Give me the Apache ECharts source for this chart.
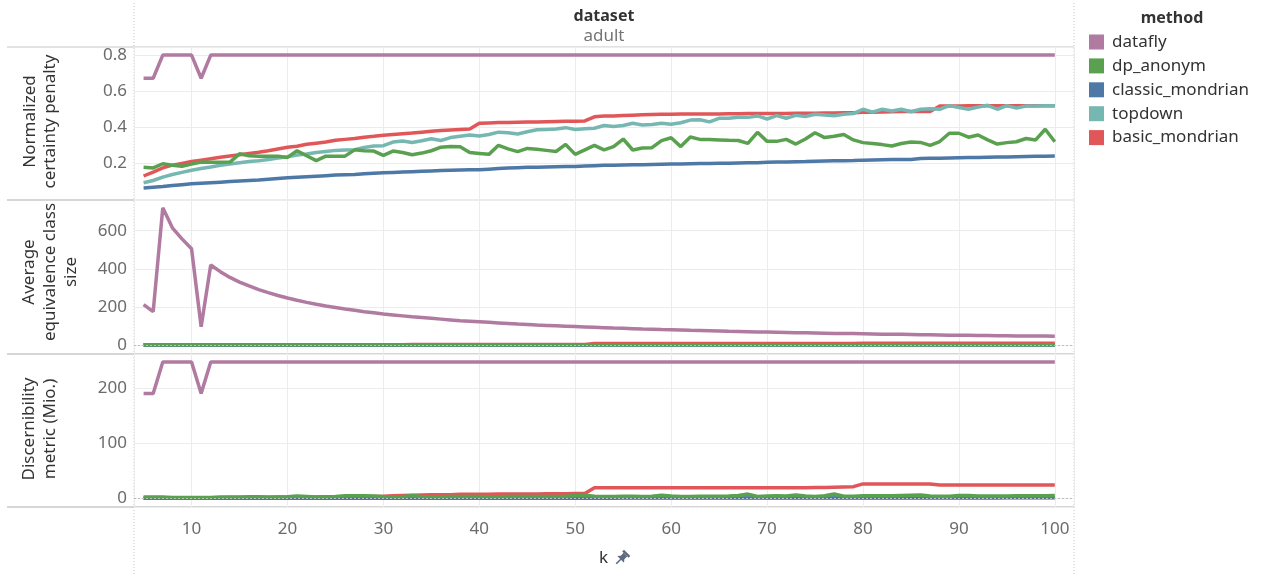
<!DOCTYPE html>
<html>
<head>
<meta charset="utf-8">
<script src="https://cdn.jsdelivr.net/npm/echarts@6/dist/echarts.min.js"></script>
<style>
  html, body { margin: 0; padding: 0; background: #ffffff; }
  #chart { width: 1269px; height: 576px; }
</style>
</head>
<body>
<div id="chart"></div>
<script>
// k values (x axis)
const kValues = [
  5, 6, 7, 8, 9, 10, 11, 12, 13, 14,
  15, 16, 17, 18, 19, 20, 21, 22, 23, 24,
  25, 26, 27, 28, 29, 30, 31, 32, 33, 34,
  35, 36, 37, 38, 39, 40, 41, 42, 43, 44,
  45, 46, 47, 48, 49, 50, 51, 52, 53, 54,
  55, 56, 57, 58, 59, 60, 61, 62, 63, 64,
  65, 66, 67, 68, 69, 70, 71, 72, 73, 74,
  75, 76, 77, 78, 79, 80, 81, 82, 83, 84,
  85, 86, 87, 88, 89, 90, 91, 92, 93, 94,
  95, 96, 97, 98, 99, 100
];

const methods = ['datafly', 'dp_anonym', 'classic_mondrian', 'topdown', 'basic_mondrian'];
const methodColors = {
  datafly: '#b07aa1',
  dp_anonym: '#59a14f',
  classic_mondrian: '#4e79a7',
  topdown: '#76b7b2',
  basic_mondrian: '#e15759'
};

// ---- Normalized certainty penalty ----
const penaltyDatafly = [
  0.672, 0.672, 0.8, 0.8, 0.8, 0.8, 0.672, 0.8, 0.8, 0.8,
  0.8, 0.8, 0.8, 0.8, 0.8, 0.8, 0.8, 0.8, 0.8, 0.8,
  0.8, 0.8, 0.8, 0.8, 0.8, 0.8, 0.8, 0.8, 0.8, 0.8,
  0.8, 0.8, 0.8, 0.8, 0.8, 0.8, 0.8, 0.8, 0.8, 0.8,
  0.8, 0.8, 0.8, 0.8, 0.8, 0.8, 0.8, 0.8, 0.8, 0.8,
  0.8, 0.8, 0.8, 0.8, 0.8, 0.8, 0.8, 0.8, 0.8, 0.8,
  0.8, 0.8, 0.8, 0.8, 0.8, 0.8, 0.8, 0.8, 0.8, 0.8,
  0.8, 0.8, 0.8, 0.8, 0.8, 0.8, 0.8, 0.8, 0.8, 0.8,
  0.8, 0.8, 0.8, 0.8, 0.8, 0.8, 0.8, 0.8, 0.8, 0.8,
  0.8, 0.8, 0.8, 0.8, 0.8, 0.8
];
const penaltyDp = [
  0.178, 0.175, 0.198, 0.19, 0.184, 0.196, 0.207, 0.206, 0.206, 0.207,
  0.253, 0.242, 0.24, 0.24, 0.24, 0.233, 0.27, 0.242, 0.215, 0.24,
  0.24, 0.24, 0.275, 0.27, 0.268, 0.244, 0.268, 0.26, 0.248, 0.257,
  0.27, 0.29, 0.293, 0.292, 0.26, 0.255, 0.25, 0.3, 0.28, 0.265,
  0.283, 0.278, 0.272, 0.266, 0.305, 0.25, 0.275, 0.3, 0.275, 0.293,
  0.335, 0.274, 0.285, 0.287, 0.326, 0.342, 0.293, 0.346, 0.333, 0.332,
  0.33, 0.328, 0.327, 0.311, 0.372, 0.322, 0.322, 0.333, 0.307, 0.335,
  0.37, 0.343, 0.35, 0.36, 0.33, 0.315, 0.31, 0.304, 0.296, 0.31,
  0.318, 0.316, 0.3, 0.321, 0.367, 0.367, 0.345, 0.357, 0.33, 0.307,
  0.315, 0.32, 0.338, 0.33, 0.389, 0.32
];
const penaltyClassic = [
  0.064, 0.068, 0.072, 0.077, 0.082, 0.087, 0.09, 0.093, 0.096, 0.099,
  0.102, 0.105, 0.108, 0.112, 0.116, 0.12, 0.123, 0.126, 0.129, 0.132,
  0.135, 0.137, 0.139, 0.142, 0.145, 0.148, 0.15, 0.152, 0.154, 0.156,
  0.158, 0.16, 0.162, 0.163, 0.164, 0.165, 0.168, 0.171, 0.174, 0.176,
  0.178, 0.179, 0.18, 0.181, 0.182, 0.183, 0.185, 0.187, 0.189, 0.19,
  0.191, 0.192, 0.193, 0.194, 0.195, 0.196, 0.197, 0.198, 0.199, 0.199,
  0.2, 0.201, 0.202, 0.203, 0.204, 0.206, 0.207, 0.208, 0.209, 0.21,
  0.212, 0.213, 0.214, 0.215, 0.216, 0.218, 0.219, 0.22, 0.221, 0.222,
  0.222, 0.227, 0.228, 0.229, 0.23, 0.231, 0.232, 0.233, 0.234, 0.235,
  0.236, 0.237, 0.238, 0.239, 0.24, 0.241
];
const penaltyTopdown = [
  0.093, 0.105, 0.124, 0.138, 0.15, 0.162, 0.172, 0.18, 0.19, 0.197,
  0.204, 0.21, 0.215, 0.222, 0.23, 0.237, 0.246, 0.252, 0.26, 0.266,
  0.272, 0.274, 0.276, 0.288, 0.296, 0.298, 0.318, 0.324, 0.316, 0.325,
  0.336, 0.327, 0.343, 0.35, 0.357, 0.352, 0.36, 0.373, 0.37, 0.363,
  0.375, 0.386, 0.388, 0.39, 0.398, 0.388, 0.392, 0.395, 0.41, 0.405,
  0.41, 0.422, 0.413, 0.415, 0.422, 0.417, 0.425, 0.44, 0.442, 0.43,
  0.45, 0.45, 0.455, 0.455, 0.463, 0.446, 0.465, 0.45, 0.466, 0.46,
  0.472, 0.468, 0.464, 0.472, 0.476, 0.5, 0.484, 0.5, 0.49, 0.5,
  0.486, 0.5, 0.503, 0.5, 0.52, 0.51, 0.5, 0.512, 0.522, 0.5,
  0.52, 0.506, 0.518, 0.518, 0.519, 0.52
];
const penaltyBasic = [
  0.13, 0.152, 0.175, 0.19, 0.2, 0.21, 0.218, 0.226, 0.234, 0.241,
  0.248, 0.255, 0.262, 0.27, 0.28, 0.289, 0.295, 0.306, 0.312, 0.318,
  0.328, 0.333, 0.338, 0.345, 0.35, 0.356, 0.36, 0.364, 0.368, 0.373,
  0.378, 0.382, 0.385, 0.388, 0.39, 0.422, 0.424, 0.426, 0.427, 0.428,
  0.429, 0.43, 0.431, 0.432, 0.433, 0.434, 0.435, 0.458, 0.462, 0.463,
  0.465, 0.467, 0.469, 0.471, 0.472, 0.472, 0.473, 0.473, 0.473, 0.474,
  0.474, 0.475, 0.475, 0.476, 0.476, 0.477, 0.477, 0.477, 0.478, 0.478,
  0.478, 0.479, 0.479, 0.48, 0.48, 0.483, 0.484, 0.485, 0.486, 0.487,
  0.487, 0.488, 0.488, 0.518, 0.518, 0.518, 0.519, 0.519, 0.519, 0.519,
  0.519, 0.52, 0.52, 0.52, 0.52, 0.52
];

// ---- Average equivalence class size ----
const sizeDatafly = [
  212, 175, 720, 615, 557, 505, 96, 420, 385, 355,
  330, 310, 291, 275, 260, 247, 235, 224, 214, 205,
  197, 189, 182, 175, 169, 163, 158, 153, 148, 144,
  140, 136, 132, 128, 125, 122, 119, 116, 113, 110,
  108, 105, 103, 101, 99, 97, 95, 93, 91, 89,
  88, 86, 84, 83, 81, 80, 79, 77, 76, 75,
  74, 72, 71, 70, 69, 68, 67, 66, 65, 64,
  63, 62, 61, 61, 60, 59, 58, 57, 57, 56,
  55, 54, 54, 53, 52, 52, 51, 50, 50, 49,
  49, 48, 48, 47, 47, 46
];
const sizeDp = [
  1, 1, 1, 1, 1, 1, 1, 1, 1, 1,
  1, 1, 1, 1, 1, 1, 1, 1, 1, 1,
  1, 1, 1, 1, 1, 1, 1, 1, 1, 1,
  1, 1, 1, 1, 1, 1, 1, 1, 1, 1,
  1, 1, 1, 1, 1, 1, 1, 1, 1, 1,
  1, 1, 1, 1, 1, 1, 1, 1, 1, 1,
  1, 1, 1, 1, 1, 1, 1, 1, 1, 1,
  1, 1, 1, 1, 1, 1, 1, 1, 1, 1,
  1, 1, 1, 1, 1, 1, 1, 1, 1, 1,
  1, 1, 1, 1, 1, 1
];
const sizeClassic = [
  0.5, 0.5, 0.5, 0.5, 0.5, 0.5, 0.5, 0.5, 0.5, 0.5,
  0.5, 0.5, 0.5, 0.5, 0.5, 0.5, 0.5, 0.5, 0.5, 0.5,
  0.5, 0.5, 0.5, 0.5, 0.5, 0.5, 0.5, 0.5, 0.5, 0.5,
  0.5, 0.5, 0.5, 0.5, 0.5, 0.5, 0.5, 0.5, 0.5, 0.5,
  0.5, 0.5, 0.5, 0.5, 0.5, 0.5, 0.5, 0.5, 0.5, 0.5,
  0.5, 0.5, 0.5, 0.5, 0.5, 0.5, 0.5, 0.5, 0.5, 0.5,
  0.5, 0.5, 0.5, 0.5, 0.5, 0.5, 0.5, 0.5, 0.5, 0.5,
  0.5, 0.5, 0.5, 0.5, 0.5, 0.5, 0.5, 0.5, 0.5, 0.5,
  0.5, 0.5, 0.5, 0.5, 0.5, 0.5, 0.5, 0.5, 0.5, 0.5,
  0.5, 0.5, 0.5, 0.5, 0.5, 0.5
];
const sizeTopdown = [
  1, 1, 1, 1, 1, 1, 1, 1, 1, 1,
  1, 1, 1, 1, 1, 1, 1, 1, 1, 1,
  1, 1, 1, 1, 1, 1, 1, 1, 1, 1,
  1, 1, 1, 1, 1, 1, 1, 1, 1, 1,
  1, 1, 1, 1, 1, 1, 1, 1, 1, 1,
  1, 1, 1, 1, 1, 1, 1, 1, 1, 1,
  1, 1, 1, 1, 1, 1, 1, 1, 1, 1,
  1, 1, 1, 1, 1, 1, 1, 1, 1, 1,
  1, 1, 1, 1, 1, 1, 1, 1, 1, 1,
  1, 1, 1, 1, 1, 1
];
const sizeBasic = [
  2, 2, 2, 2, 2, 2, 2, 2, 2, 2,
  2, 2, 2, 2, 2, 2, 2, 2, 2, 2,
  2, 2, 2, 2, 2, 2, 2, 2, 3, 3,
  3, 3, 3, 3, 3, 3, 3, 3, 3, 3,
  3, 3, 3, 3, 3, 3, 3, 8, 8, 8,
  8, 8, 8, 8, 8, 8, 8, 8, 8, 8,
  8, 8, 8, 8, 8, 8, 8, 8, 8, 8,
  8, 8, 8, 8, 8, 10, 10, 10, 10, 10,
  10, 10, 10, 9, 9, 9, 9, 9, 9, 9,
  9, 9, 9, 9, 9, 9
];

// ---- Discernibility metric (Mio.) ----
const dmDatafly = [
  191, 191, 248, 248, 248, 248, 191, 248, 248, 248,
  248, 248, 248, 248, 248, 248, 248, 248, 248, 248,
  248, 248, 248, 248, 248, 248, 248, 248, 248, 248,
  248, 248, 248, 248, 248, 248, 248, 248, 248, 248,
  248, 248, 248, 248, 248, 248, 248, 248, 248, 248,
  248, 248, 248, 248, 248, 248, 248, 248, 248, 248,
  248, 248, 248, 248, 248, 248, 248, 248, 248, 248,
  248, 248, 248, 248, 248, 248, 248, 248, 248, 248,
  248, 248, 248, 248, 248, 248, 248, 248, 248, 248,
  248, 248, 248, 248, 248, 248
];
const dmDp = [
  2.5, 2.5, 2.5, 2, 2, 2, 2, 2, 2.5, 2.5,
  2.5, 3, 3, 2.5, 2.5, 3, 4.5, 3.5, 2.5, 3,
  3.5, 5, 5, 5, 4.5, 3.5, 3, 3, 5.5, 3.5,
  3, 3, 3.5, 3.5, 3.5, 3.5, 3, 3, 3.5, 3.5,
  3.5, 3.5, 3.5, 3.5, 4, 5, 6, 4, 3.5, 3.5,
  4, 4, 3.5, 4, 6, 4.5, 3.5, 3.5, 4, 4,
  4, 4.5, 5.5, 8, 3.5, 4.5, 5, 4.5, 6.5, 4.5,
  3.5, 5, 8, 4, 4, 5, 5, 5, 5, 5.5,
  6, 6.5, 4.5, 4, 4, 5.5, 5.5, 4.5, 4.5, 4.5,
  4.5, 5, 5, 5, 5, 5.5
];
const dmClassic = [
  0.2, 0.2, 0.2, 0.2, 0.2, 0.2, 0.2, 0.2, 0.2, 0.2,
  0.3, 0.3, 0.3, 0.3, 0.3, 0.3, 0.3, 0.3, 0.3, 0.3,
  0.4, 0.4, 0.4, 0.4, 0.4, 0.4, 0.4, 0.4, 0.4, 0.4,
  0.5, 0.5, 0.5, 0.5, 0.5, 0.5, 0.5, 0.5, 0.5, 0.5,
  0.6, 0.6, 0.6, 0.6, 0.6, 0.6, 0.6, 0.6, 0.6, 0.6,
  0.7, 0.7, 0.7, 0.7, 0.7, 0.7, 0.7, 0.7, 0.7, 0.7,
  0.8, 0.8, 0.8, 0.8, 0.8, 0.8, 0.8, 0.8, 0.8, 0.8,
  0.9, 0.9, 0.9, 0.9, 0.9, 0.9, 0.9, 0.9, 0.9, 0.9,
  1.0, 1.0, 1.0, 1.0, 1.0, 1.0, 1.0, 1.0, 1.0, 1.0,
  1.1, 1.1, 1.1, 1.1, 1.1, 1.1
];
const dmTopdown = [
  0.8, 0.8, 0.8, 0.8, 0.8, 0.8, 0.8, 0.8, 0.8, 0.8,
  0.9, 0.9, 0.9, 0.9, 0.9, 0.9, 0.9, 0.9, 0.9, 0.9,
  1.0, 1.0, 1.0, 1.0, 1.0, 1.0, 1.0, 1.0, 1.0, 1.0,
  1.1, 1.1, 1.1, 1.1, 1.1, 1.1, 1.1, 1.1, 1.1, 1.1,
  1.2, 1.2, 1.2, 1.2, 1.2, 1.2, 1.2, 1.2, 1.2, 1.2,
  1.3, 1.3, 1.3, 1.3, 1.3, 1.3, 1.3, 1.3, 1.3, 1.3,
  1.4, 1.4, 1.4, 1.4, 1.4, 1.4, 1.4, 1.4, 1.4, 1.4,
  1.5, 1.5, 1.5, 1.5, 1.5, 1.5, 1.5, 1.5, 1.5, 1.5,
  1.6, 1.6, 1.6, 1.6, 1.6, 1.6, 1.6, 1.6, 1.6, 1.6,
  1.7, 1.7, 1.7, 1.7, 1.7, 1.7
];
const dmBasic = [
  1, 1, 1, 1, 1.5, 1.5, 1.5, 1.5, 1.5, 2,
  2, 2, 2, 2, 2.5, 2.5, 2.5, 2.5, 2.5, 3,
  3, 3, 3, 3, 3.5, 4, 5, 5.5, 6, 6.5,
  7, 7, 7, 7.5, 7.5, 7.5, 7.5, 8, 8, 8,
  8, 8, 8.5, 8.5, 8.5, 9, 9, 19.5, 19.5, 19.5,
  19.5, 19.5, 19.5, 19.5, 19.5, 19.5, 19.5, 19.5, 19.5, 19.5,
  19.5, 19.5, 19.5, 19.5, 19.5, 19.5, 19.5, 19.5, 19.5, 19.5,
  20, 20, 20.5, 21, 21.5, 26.5, 26.5, 26.5, 26.5, 26.5,
  26.5, 26.5, 26.5, 24.5, 24.5, 24.5, 24.5, 24.5, 24.5, 24.5,
  24.5, 24.5, 24.5, 24.5, 24.5, 24.5
];

// Panel tick labels
const penaltyTicks = [0.2, 0.4, 0.6, 0.8];
const sizeTicks = [0, 200, 400, 600];
const dmTicks = [0, 100, 200];
const kTicks = [10, 20, 30, 40, 50, 60, 70, 80, 90, 100];

const panels = [
  { values: { datafly: penaltyDatafly, dp_anonym: penaltyDp, classic_mondrian: penaltyClassic, topdown: penaltyTopdown, basic_mondrian: penaltyBasic },
    min: -0.003, max: 0.845, split: 4, ticks: penaltyTicks, fmt: v => v.toFixed(1), zeroLine: false },
  { values: { datafly: sizeDatafly, dp_anonym: sizeDp, classic_mondrian: sizeClassic, topdown: sizeTopdown, basic_mondrian: sizeBasic },
    min: -47, max: 761, split: 4, ticks: sizeTicks, fmt: v => String(Math.round(v)), zeroLine: true },
  { values: { datafly: dmDatafly, dp_anonym: dmDp, classic_mondrian: dmClassic, topdown: dmTopdown, basic_mondrian: dmBasic },
    min: -15.5, max: 262.7, split: 3, ticks: dmTicks, fmt: v => String(Math.round(v)), zeroLine: true }
];

const FONT = "'Noto Sans', 'DejaVu Sans', sans-serif";
const gridTops = [47, 200, 354];
const gridHeights = [153, 154, 153];
const PLOT_LEFT = 134, PLOT_RIGHT = 1074;

const grids = gridTops.map((t, i) => ({ left: PLOT_LEFT, top: t, width: PLOT_RIGHT - PLOT_LEFT, height: gridHeights[i], show: false }));

const xAxes = gridTops.map((t, i) => ({
  type: 'value', gridIndex: i, min: 4, max: 102, splitNumber: 10,
  axisLine: { show: false }, axisTick: { show: false },
  axisLabel: {
    show: i === 2, margin: 14, fontSize: 17, color: '#6b6b6b', fontFamily: FONT,
    showMinLabel: false, showMaxLabel: false,
    formatter: v => (kTicks.indexOf(v) >= 0 ? String(v) : '')
  },
  splitLine: { show: true, lineStyle: { color: '#ececec', width: 1 } }
}));

const yAxes = panels.map((p, i) => ({
  type: 'value', gridIndex: i, min: p.min, max: p.max, splitNumber: p.split,
  axisLine: { show: false }, axisTick: { show: false },
  axisLabel: {
    margin: 7, fontSize: 17, color: '#6b6b6b', fontFamily: FONT,
    showMinLabel: false, showMaxLabel: false,
    formatter: v => {
      const hit = p.ticks.find(t => Math.abs(t - v) < 1e-6);
      return hit === undefined ? '' : p.fmt(hit);
    }
  },
  splitLine: { show: true, lineStyle: { color: '#ececec', width: 1 } }
}));

// Draw order: later series sit on top, so the first legend entry is added last
const drawOrder = methods.slice().reverse();
const series = [];
panels.forEach((p, i) => {
  drawOrder.forEach(m => {
    series.push({
      name: m, type: 'line', xAxisIndex: i, yAxisIndex: i,
      data: kValues.map((k, j) => [k, p.values[m][j]]),
      showSymbol: false, symbol: 'none', smooth: false,
      lineStyle: { width: 3.5, color: methodColors[m] },
      itemStyle: { color: methodColors[m] },
      emphasis: { disabled: true }, silent: true
    });
  });
  if (p.zeroLine) {
    series.push({
      type: 'line', xAxisIndex: i, yAxisIndex: i, data: [], silent: true,
      markLine: {
        silent: true, symbol: 'none', label: { show: false },
        lineStyle: { color: '#bdbdbd', type: [2, 2], width: 1 },
        data: [{ yAxis: 0 }]
      }
    });
  }
});

const graphic = [
  // pane dividers
  { type: 'line', shape: { x1: 7, y1: 47, x2: PLOT_RIGHT, y2: 47 }, style: { stroke: '#e2e2e2', lineWidth: 2 }, silent: true },
  { type: 'line', shape: { x1: 7, y1: 200, x2: PLOT_RIGHT, y2: 200 }, style: { stroke: '#d6d6d6', lineWidth: 2 }, silent: true },
  { type: 'line', shape: { x1: 7, y1: 354, x2: PLOT_RIGHT, y2: 354 }, style: { stroke: '#d6d6d6', lineWidth: 2 }, silent: true },
  { type: 'line', shape: { x1: 7, y1: 507, x2: PLOT_RIGHT, y2: 507 }, style: { stroke: '#d6d6d6', lineWidth: 2 }, silent: true },
  { type: 'line', shape: { x1: PLOT_LEFT, y1: 3, x2: PLOT_LEFT, y2: 576 }, style: { stroke: '#c4c4c4', lineWidth: 1, lineDash: [1, 2] }, silent: true },
  { type: 'line', shape: { x1: PLOT_RIGHT, y1: 3, x2: PLOT_RIGHT, y2: 576 }, style: { stroke: '#c4c4c4', lineWidth: 1, lineDash: [1, 2] }, silent: true },
  // column header
  { type: 'text', x: 604, y: 16, style: { text: 'dataset', font: `bold 16px ${FONT}`, fill: '#333333', align: 'center', verticalAlign: 'middle' }, silent: true },
  { type: 'text', x: 604, y: 36.5, style: { text: 'adult', font: `17px ${FONT}`, fill: '#757575', align: 'center', verticalAlign: 'middle' }, silent: true },
  // legend title
  { type: 'text', x: 1172, y: 18, style: { text: 'method', font: `bold 16px ${FONT}`, fill: '#333333', align: 'center', verticalAlign: 'middle' }, silent: true },
  // row titles
  { type: 'text', x: 40, y: 121.5, rotation: Math.PI / 2, style: { text: 'Normalized\ncertainty penalty', font: `17px ${FONT}`, lineHeight: 20, fill: '#333333', align: 'center', verticalAlign: 'middle' }, silent: true },
  { type: 'text', x: 50, y: 272, rotation: Math.PI / 2, style: { text: 'Average\nequivalence class\nsize', font: `17px ${FONT}`, lineHeight: 21, fill: '#333333', align: 'center', verticalAlign: 'middle' }, silent: true },
  { type: 'text', x: 40, y: 429, rotation: Math.PI / 2, style: { text: 'Discernibility\nmetric (Mio.)', font: `17px ${FONT}`, lineHeight: 21, fill: '#333333', align: 'center', verticalAlign: 'middle' }, silent: true },
  // x axis title
  { type: 'text', x: 603.5, y: 558, style: { text: 'k', font: `17px ${FONT}`, fill: '#333333', align: 'center', verticalAlign: 'middle' }, silent: true },
  // pin icon next to the axis title
  {
    type: 'group', x: 621.5, y: 558.5, rotation: -Math.PI / 4, silent: true,
    children: [
      { type: 'rect', shape: { x: -4.5, y: -8, width: 9, height: 2.5 }, style: { fill: '#5e6b7e' } },
      { type: 'polygon', shape: { points: [[-2.5, -5.5], [2.5, -5.5], [2.5, -1.5], [4.8, 1.2], [-4.8, 1.2], [-2.5, -1.5]] }, style: { fill: '#5e6b7e' } },
      { type: 'line', shape: { x1: 0, y1: 1, x2: 0, y2: 7.5 }, style: { stroke: '#5e6b7e', lineWidth: 1.6 } }
    ]
  }
];

const chart = echarts.init(document.getElementById('chart'), null, { renderer: 'canvas' });
chart.setOption({
  animation: false,
  backgroundColor: '#ffffff',
  textStyle: { fontFamily: FONT },
  grid: grids,
  xAxis: xAxes,
  yAxis: yAxes,
  legend: {
    data: methods,
    orient: 'vertical',
    left: 1089, top: 33.5, padding: 0,
    itemWidth: 15, itemHeight: 15, itemGap: 6.9,
    icon: 'rect',
    selectedMode: false,
    textStyle: { fontSize: 17, color: '#333333', fontFamily: FONT, padding: [0, 0, 0, 3] }
  },
  series: series,
  graphic: graphic
});
</script>
</body>
</html>
